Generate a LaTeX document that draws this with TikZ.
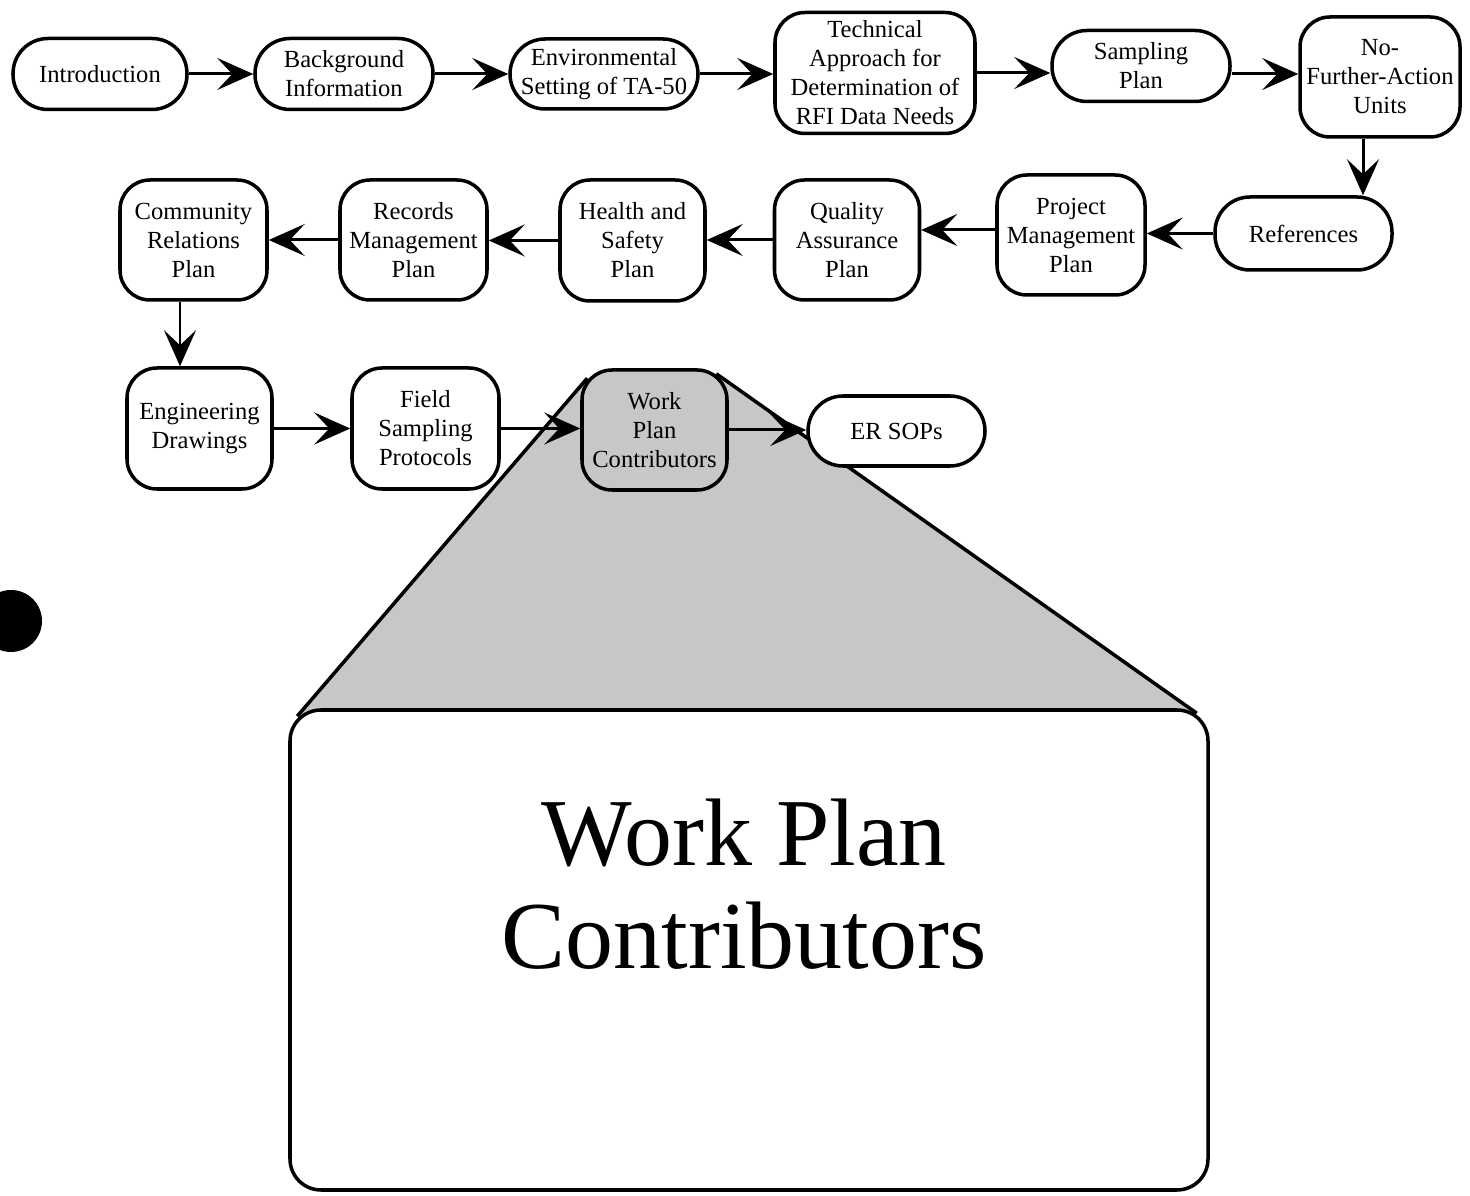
\documentclass[tikz,border=0pt]{standalone}
\usepackage{fontspec}
\setmainfont{Liberation Serif}
\usetikzlibrary{arrows.meta,positioning,calc,backgrounds}
\tikzset{
  stage/.style={rectangle, rounded corners=0.6cm, draw=black, line width=2pt,
    fill=white, align=center, inner sep=0pt, minimum width=2.9cm,
    minimum height=2.4cm, font=\fontsize{14}{16.5}\selectfont},
  pill/.style={stage, rounded corners=0.7cm, minimum height=1.42cm},
  focus/.style={stage, fill=black!22},
  flow/.style={-{Stealth[length=0.72cm, width=0.64cm, inset=0.3cm]},
    line width=1.7pt, draw=black},
  funnel/.style={line width=2pt, draw=black},
}
\begin{document}
\begin{tikzpicture}
  \useasboundingbox (0,0) rectangle (29.4,23.92);
  % first row
  \node[pill, minimum width=3.48cm] (intro) at (2.00,22.44) {Introduction};
  \node[pill, minimum width=3.56cm] (backg) at (6.88,22.44) {Background\\Information};
  \node[pill, minimum width=3.76cm, minimum height=1.40cm] (envset) at (12.08,22.44) {Environmental\\Setting of TA-50};
  \node[stage, minimum width=4.0cm, minimum height=2.42cm] (techap) at (17.50,22.46) {Technical\\Approach for\\Determination of\\RFI Data Needs};
  \node[pill, minimum width=3.56cm] (samp) at (22.82,22.60) {Sampling\\Plan};
  \node[stage, minimum width=3.2cm] (nfa) at (27.60,22.38) {No-\\Further-Action\\Units};
  % second row
  \node[pill, minimum width=3.54cm, minimum height=1.46cm] (refs) at (26.07,19.25) {References};
  \node[stage, minimum width=2.96cm] (pmp) at (21.42,19.22) {Project\\Management\\Plan};
  \node[stage] (qap) at (16.94,19.12) {Quality\\Assurance\\Plan};
  \node[stage, minimum height=2.42cm] (hsp) at (12.65,19.11) {Health and\\Safety\\Plan};
  \node[stage, minimum width=2.94cm] (rmp) at (8.27,19.12) {Records\\Management\\Plan};
  \node[stage, minimum width=2.94cm] (crp) at (3.87,19.12) {Community\\Relations\\Plan};
  % third row
  \node[stage, minimum height=2.42cm] (eng) at (3.99,15.35) {Engineering\\Drawings};
  \node[stage, minimum width=2.94cm, minimum height=2.42cm] (fsp) at (8.51,15.35) {Field\\Sampling\\Protocols};
  \node[focus] (wpc) at (13.09,15.32) {Work\\Plan\\Contributors};
  \node[pill, minimum width=3.54cm, minimum height=1.40cm] (ers) at (17.93,15.30) {ER SOPs};
  % enlarged view
  \node[stage, rounded corners=0.62cm, minimum width=18.36cm, minimum height=9.60cm] (detail) at (14.98,4.92) {};
  \node[font=\fontsize{54.6}{58.5}\selectfont, align=center] (detlabel) at (14.88,6.24) {Work Plan\\Contributors};
  \begin{scope}[on background layer]
    \fill[black!22] ($(wpc.north west)+(0.14,-0.20)$) -- ($(detail.north west)+(0.18,-0.16)$)
      -- ($(detail.north east)+(-0.26,-0.10)$) -- ($(wpc.north east)+(-0.25,-0.11)$) -- cycle;
    \draw[funnel] ($(wpc.north west)+(0.14,-0.20)$) -- ($(detail.north west)+(0.18,-0.16)$);
    \draw[funnel] ($(wpc.north east)+(-0.25,-0.11)$) -- ($(detail.north east)+(-0.26,-0.10)$);
  \end{scope}
  % connectors
  \draw[flow] (intro.east) -- (intro.east -| backg.west);
  \draw[flow] (backg.east) -- (backg.east -| envset.west);
  \draw[flow] (envset.east) -- (envset.east -| techap.west);
  \draw[flow] (techap.east) -- (techap.east -| samp.west);
  \draw[flow] ([yshift=-0.16cm]samp.east) -- ([yshift=-0.16cm]samp.east -| nfa.west);
  \draw[flow] ([xshift=-0.34cm]nfa.south) -- ([xshift=-0.34cm]nfa.south |- refs.north);
  \draw[flow] (refs.west) -- (refs.west -| pmp.east);
  \draw[flow] ([yshift=0.1cm]pmp.west) -- ([yshift=0.1cm]pmp.west -| qap.east);
  \draw[flow] (qap.west) -- (qap.west -| hsp.east);
  \draw[flow] (hsp.west) -- (hsp.west -| rmp.east);
  \draw[flow] (rmp.west) -- (rmp.west -| crp.east);
  \draw[flow] ([xshift=-0.27cm]crp.south) -- ([xshift=-0.27cm]crp.south |- eng.north);
  \draw[flow] (eng.east) -- (eng.east -| fsp.west);
  \draw[flow] (fsp.east) -- (fsp.east -| wpc.west);
  \draw[flow] (wpc.east) -- (wpc.east -| ers.west);
  % punch hole
  \fill[black] (0.22,11.50) circle (0.62cm);
\end{tikzpicture}
\end{document}
